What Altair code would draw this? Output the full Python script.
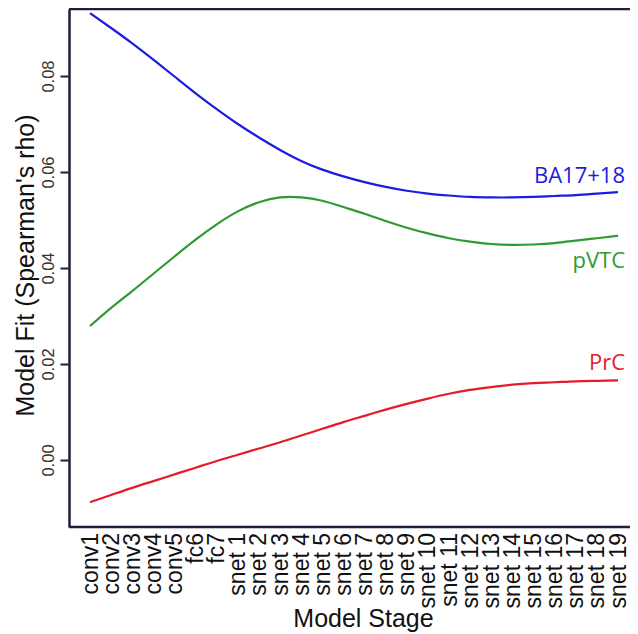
import altair as alt
import pandas as pd

stages = ["conv1", "conv2", "conv3", "conv4", "conv5", "fc6", "fc7",
          "snet 1", "snet 2", "snet 3", "snet 4", "snet 5", "snet 6", "snet 7",
          "snet 8", "snet 9", "snet 10", "snet 11", "snet 12", "snet 13",
          "snet 14", "snet 15", "snet 16", "snet 17", "snet 18", "snet 19"]

ba17_18 = [0.0931, 0.0900, 0.0868, 0.0834, 0.0799, 0.0764, 0.0731, 0.0700,
           0.0672, 0.0646, 0.0623, 0.0605, 0.0591, 0.0579, 0.0569, 0.0561,
           0.0555, 0.0551, 0.0548, 0.0547, 0.0547, 0.0548, 0.0550, 0.0552,
           0.0555, 0.0558]

pvtc = [0.0279, 0.0317, 0.0352, 0.0388, 0.0424, 0.0459, 0.0491, 0.0518,
        0.0537, 0.0547, 0.0547, 0.0540, 0.0527, 0.0513, 0.0498, 0.0484,
        0.0472, 0.0462, 0.0455, 0.0450, 0.0448, 0.0449, 0.0452, 0.0457,
        0.0462, 0.0467]

prc = [-0.0088, -0.0073, -0.0058, -0.0044, -0.0030, -0.0016, -0.0002, 0.0011,
       0.0024, 0.0037, 0.0051, 0.0065, 0.0079, 0.0092, 0.0105, 0.0117,
       0.0128, 0.0138, 0.0146, 0.0152, 0.0157, 0.0160, 0.0162, 0.0164,
       0.0165, 0.0166]

series_names = ["BA17+18", "pVTC", "PrC"]
series_colors = ["#1c1ce0", "#2e9a32", "#e41b2b"]
label_y = [0.05765, 0.0399, 0.01875]
y_ticks = [0.0, 0.02, 0.04, 0.06, 0.08]

rows = []
for name, vals in zip(series_names, [ba17_18, pvtc, prc]):
    for s, v in zip(stages, vals):
        rows.append({"series": name, "stage": s, "value": v})
df = pd.DataFrame(rows)

labels = pd.DataFrame({"series": series_names,
                       "stage": [stages[-1]] * 3,
                       "value": label_y})

FRAME = "#1e1e3c"
W, H = 561, 518

xscale = alt.Scale(type="point", range=[21, 549], padding=0)
yscale = alt.Scale(domain=[-0.01396, 0.09396], nice=False, zero=False)
cscale = alt.Scale(domain=series_names, range=series_colors)

x_axis = alt.Axis(title="Model Stage", labelAngle=270, labelAlign="right",
                  labelBaseline="middle", labelFontSize=23, labelPadding=5.5,
                  ticks=False, domain=False, labelOverlap=False,
                  titleFontSize=25, titleX=294, titleY=99,
                  titleBaseline="alphabetic", titleAlign="center",
                  labelColor="#111111", titleColor="#111111", grid=False)

y_axis = alt.Axis(title="Model Fit (Spearman's rho)", values=y_ticks, format=".2f",
                  labelAngle=270, labelAlign="center", labelBaseline="alphabetic",
                  labelFontSize=16.5, labelPadding=6.7, tickSize=9, tickWidth=2,
                  tickColor=FRAME, domainColor=FRAME, domainWidth=2.5,
                  titleFontSize=25, titleAngle=270, titleX=-36, titleY=256,
                  titleBaseline="alphabetic", titleAlign="center",
                  labelColor="#333333", titleColor="#111111", grid=False)

lines = alt.Chart(df).mark_line(interpolate="natural", strokeWidth=2.2).encode(
    x=alt.X("stage:N", sort=stages, scale=xscale, axis=x_axis),
    y=alt.Y("value:Q", scale=yscale, axis=y_axis),
    color=alt.Color("series:N", scale=cscale, legend=None),
    detail="series:N",
)

texts = alt.Chart(labels).mark_text(align="right", baseline="alphabetic", dx=7,
                                     font="Open Sans", fontSize=22).encode(
    x=alt.X("stage:N", sort=stages, scale=xscale),
    y=alt.Y("value:Q", scale=yscale),
    text="series:N",
    color=alt.Color("series:N", scale=cscale, legend=None),
)

frame_src = alt.Data(values=[{}])
top_rule = alt.Chart(frame_src).mark_rule(color=FRAME, strokeWidth=2.5).encode(
    x=alt.value(0), x2=alt.value(640), y=alt.value(0))
bottom_rule = alt.Chart(frame_src).mark_rule(color=FRAME, strokeWidth=2.5).encode(
    x=alt.value(0), x2=alt.value(640), y=alt.value(H))

chart = alt.layer(lines, texts, top_rule, bottom_rule).properties(
    width=W, height=H,
    autosize=alt.AutoSizeParams(type="none"),
    padding={"left": 61, "top": 1, "right": 0, "bottom": 107},
    background="white",
).configure_view(stroke=None).configure_axis(
    labelFont="Liberation Sans", titleFont="Liberation Sans", titleFontWeight="normal"
)

chart.save("out.html", embed_options={"renderer": "svg", "actions": False})
